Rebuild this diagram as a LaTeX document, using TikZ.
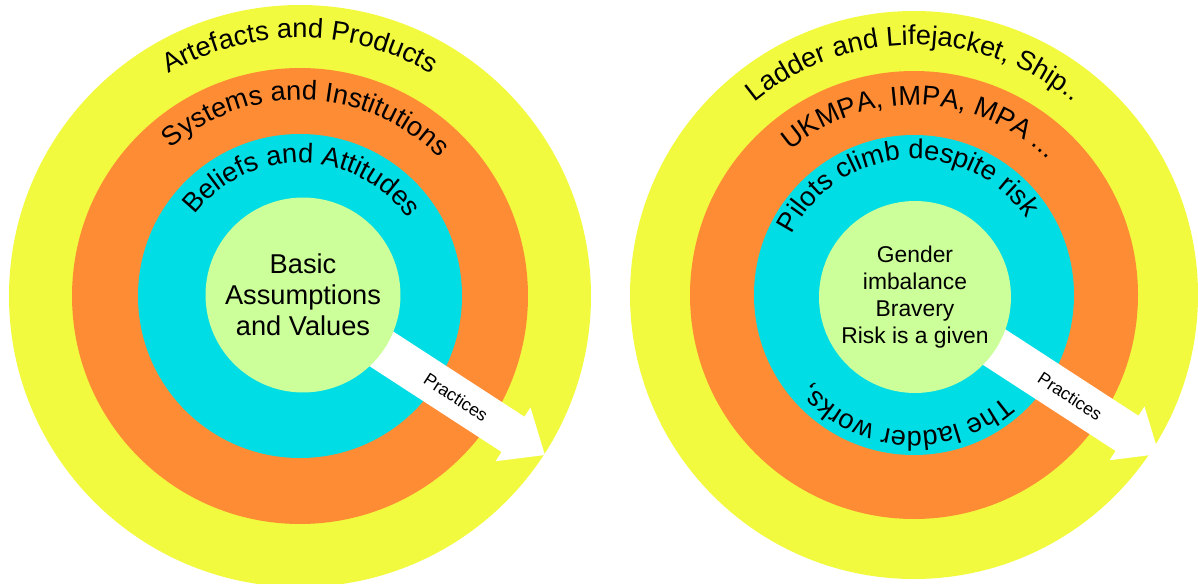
\documentclass[tikz,border=0pt]{standalone}
\usepackage{fontspec}
\setmainfont{Liberation Sans}
\usetikzlibrary{decorations.text}
\definecolor{CulYellow}{RGB}{242,250,64}
\definecolor{CulOrange}{RGB}{254,140,52}
\definecolor{CulCyan}{RGB}{0,221,228}
\definecolor{CulGreen}{RGB}{204,255,153}
\newcommand{\ringfont}{\fontsize{15.5}{18}\selectfont}
\tikzset{
  cul/core/.style={
    circle,
    fill=CulGreen,
    align=center,
    text=black,
    inner sep=0pt,
    font=\fontsize{15.5}{17.6}\selectfont
  },
  cul/coresmall/.style={cul/core, font=\fontsize{13}{15.3}\selectfont},
  cul/arc/.style={
    decorate,
    decoration={text along path, text align=center, text={|\ringfont|#1}}
  },
  cul/label/.style={font=\fontsize{10}{12}\selectfont, rotate=-33, inner sep=0pt}
}

\begin{document}
\begin{tikzpicture}[x=0.02cm,y=0.02cm]
  \useasboundingbox (0,0) rectangle (1198,583);
  \clip (0,0) rectangle (1198,583);
  \coordinate (cL) at (300,287);
  \coordinate (cR) at (914,288);
  % rings
  \fill[CulYellow] (cL) circle[radius=291];
  \fill[CulOrange] (cL) circle[radius=228];
  \fill[CulCyan] (cL) circle[radius=162];
  \fill[CulYellow] (cR) circle[radius=284];
  \fill[CulOrange] (cR) circle[radius=224];
  \fill[CulCyan] (cR) circle[radius=160];
  % practices arrows
  \foreach \ctr in {cL,cR}{
    \begin{scope}[shift={(\ctr)}, rotate=-33]
      \fill[white] (0,-21) -- (254,-21) -- (254,-32) -- (292,0) -- (254,32) -- (254,21) -- (0,21) -- cycle;
      \node[cul/label] (prac\ctr) at (186,0) {Practices};
    \end{scope}
  }
  % cores
  \node[cul/core, minimum size=3.9cm] (coreL) at (303,288) {Basic\\Assumptions\\and Values};
  \node[cul/coresmall, minimum size=3.84cm] (coreR) at (915,286) {Gender\\imbalance\\Bravery\\Risk is a given};
  % ring labels, left
  \path[cul/arc={Artefacts and Products}] ([shift={(170:258)}]cL) arc[start angle=170, end angle=10, radius=258];
  \path[cul/arc={Systems and Institutions}] ([shift={(168:196)}]cL) arc[start angle=168, end angle=8, radius=196];
  \path[cul/arc={Beliefs and Attitudes}] ([shift={(169:133)}]cL) arc[start angle=169, end angle=9, radius=133];
  % ring labels, right
  \path[cul/arc={Ladder and Lifejacket, Ship..}] ([shift={(170:250)}]cR) arc[start angle=170, end angle=10, radius=250];
  \path[cul/arc={UKMPA, IMPA, MPA ...}] ([shift={(168:190)}]cR) arc[start angle=168, end angle=8, radius=190];
  \path[cul/arc={Pilots climb despite risk}] ([shift={(174:136)}]cR) arc[start angle=174, end angle=14, radius=136];
  \path[cul/arc={The ladder works,}] ([shift={(-4:136)}]cR) arc[start angle=-4, end angle=-184, radius=136];
\end{tikzpicture}
\end{document}
